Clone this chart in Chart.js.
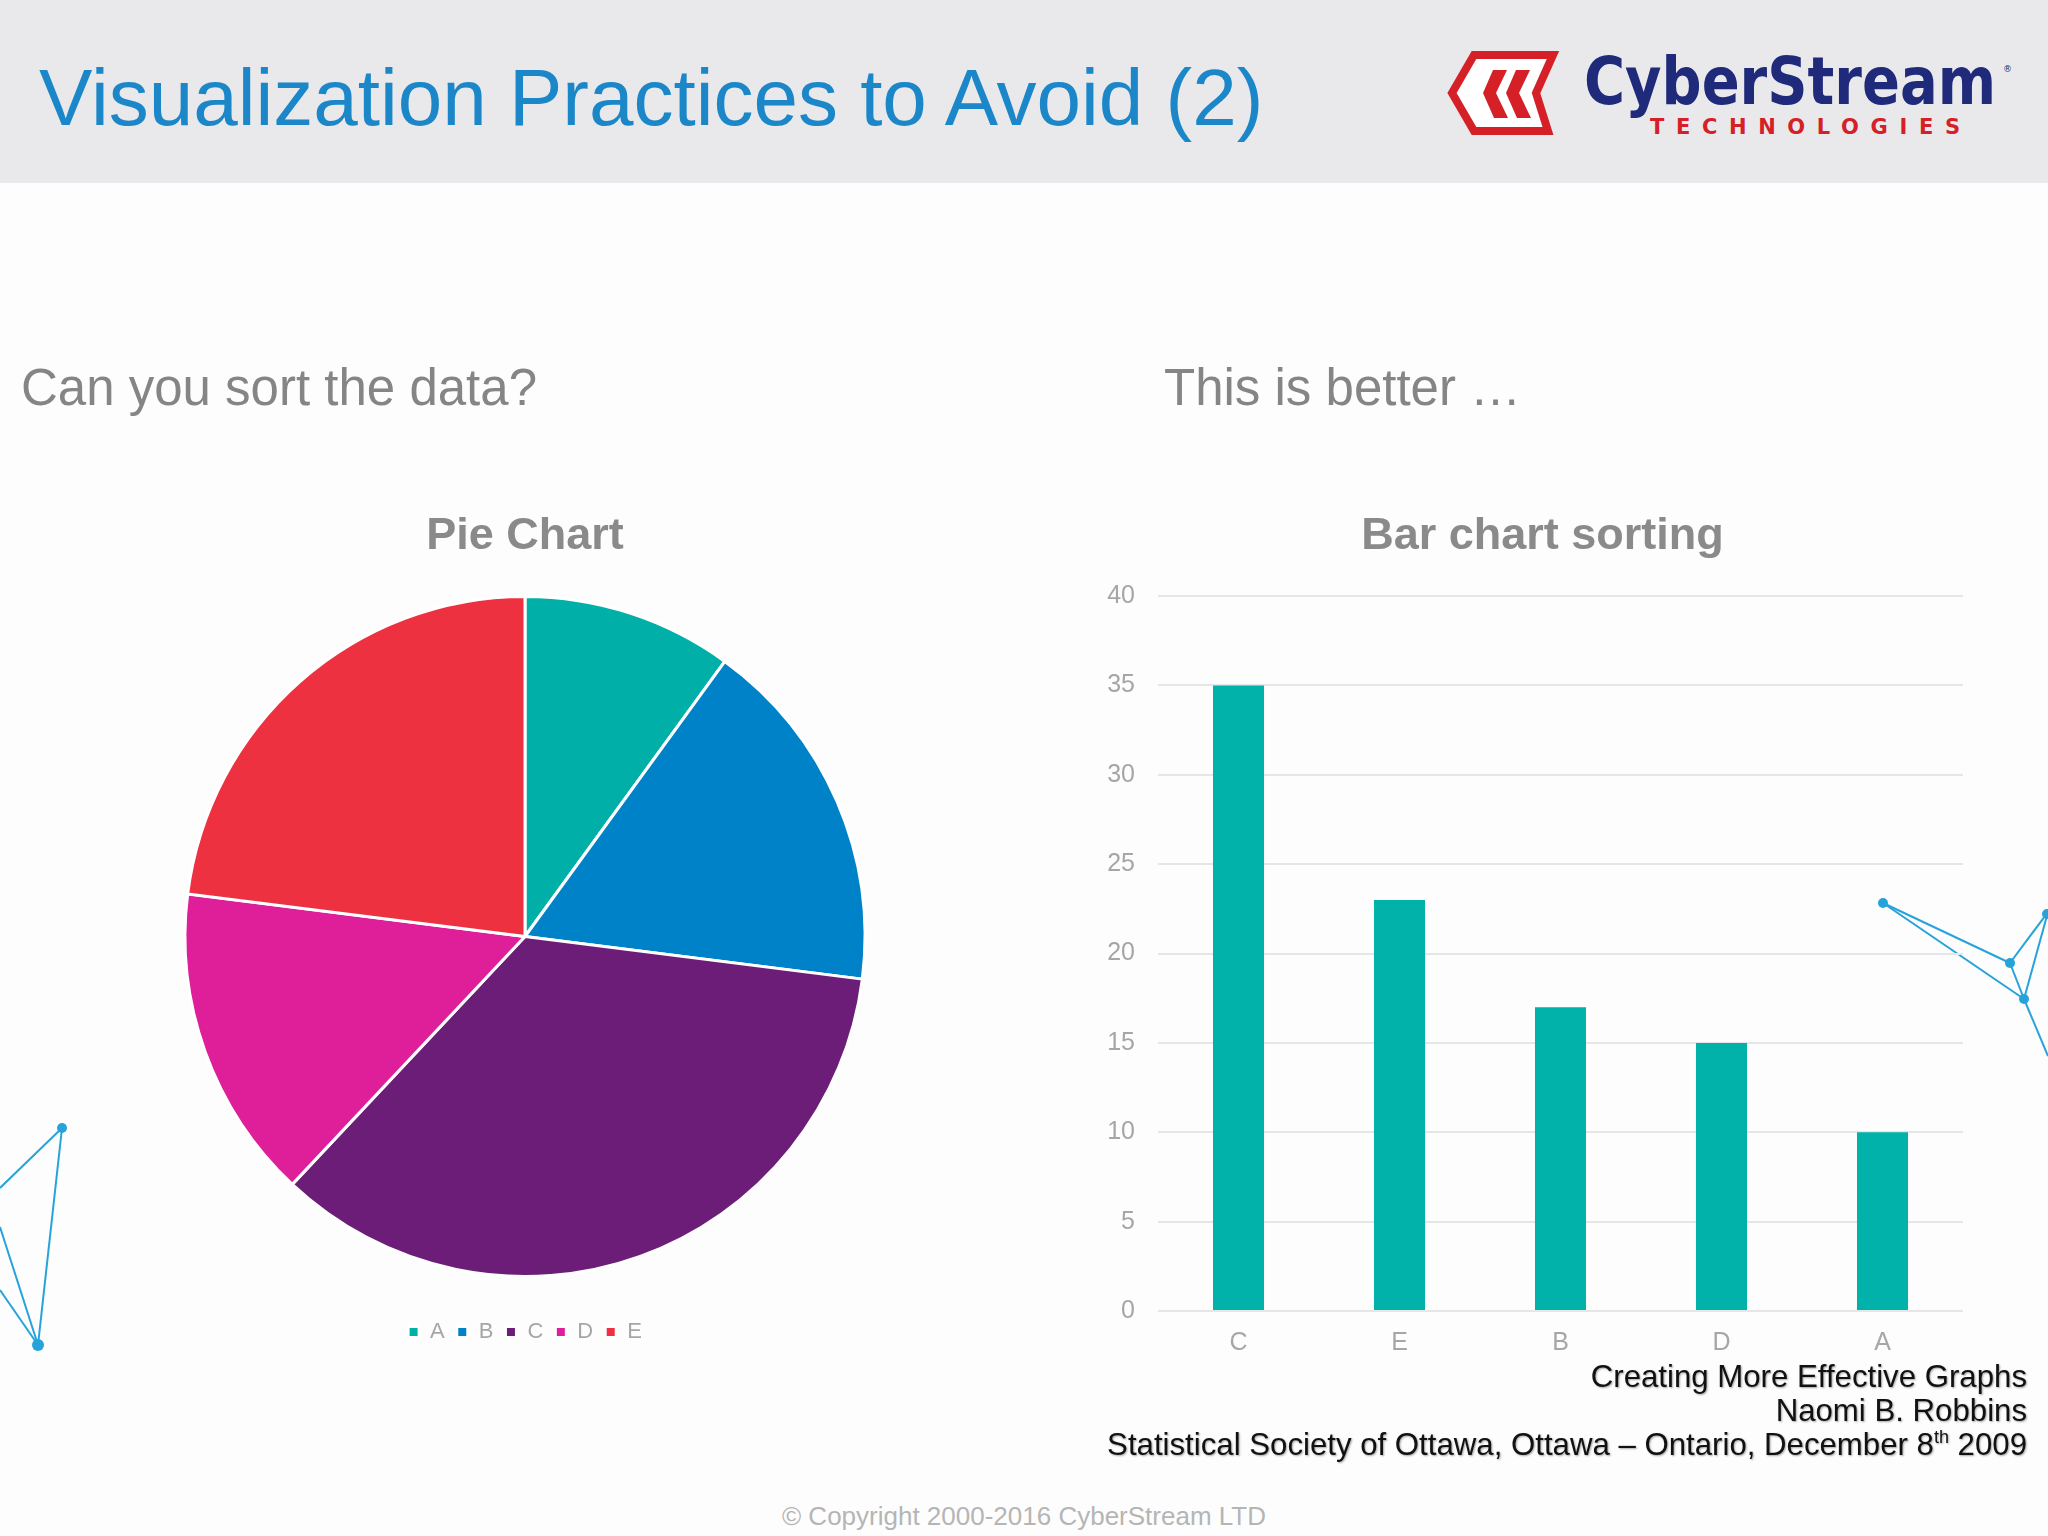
<!DOCTYPE html>
<html>
<head>
<meta charset="utf-8">
<script src="https://cdn.jsdelivr.net/npm/chart.js@4"></script>
<style>
  html, body { margin: 0; padding: 0; }
  body { width: 2048px; height: 1536px; background: #fdfdfd; position: relative; overflow: hidden; font-family: 'Liberation Sans', Arial, sans-serif; }
  .band { position: absolute; left: 0; top: 0; width: 2048px; height: 183px; background: #e9e9eb; }
  .title { position: absolute; left: 39px; top: 58px; font-size: 80px; color: #1b87c9; white-space: nowrap; line-height: 1; }
  .sub { position: absolute; top: 362px; font-size: 51px; color: #858585; white-space: nowrap; line-height: 1; }
  .cite { position: absolute; right: 21px; top: 1360px; font-size: 31.2px; line-height: 34px; text-align: right; color: #111; text-shadow: 1px 1px 2px rgba(0,0,0,0.35); white-space: nowrap; }
  .copy { position: absolute; left: 0; width: 2048px; top: 1501px; text-align: center; font-size: 26px; color: #b5b5b5; }
  canvas { position: absolute; }
  svg { position: absolute; left: 0; top: 0; }
</style>
</head>
<body>
<div class="band"></div>
<div class="title">Visualization Practices to Avoid (2)</div>

<svg width="2048" height="183">
  <polygon points="1452,93 1474,55 1553,55 1536,93 1548,131 1474,131" fill="#fff" stroke="#d52027" stroke-width="8" stroke-linejoin="miter"/>
  <polygon points="1493,70 1507,70 1496,93 1508,118 1494,118 1483,93" fill="#d52027"/>
  <polygon points="1516,70 1530,70 1519,93 1531,118 1517,118 1506,93" fill="#d52027"/>
  <text x="1584" y="104" font-family="DejaVu Sans Condensed, DejaVu Sans" font-weight="bold" font-size="66" fill="#1f2b7a" textLength="412" lengthAdjust="spacingAndGlyphs">CyberStream</text>
  <text x="2003" y="72" font-family="DejaVu Sans" font-size="9" fill="#1f2b7a">®</text>
  <text x="1650" y="134" font-family="DejaVu Sans" font-weight="bold" font-size="21" fill="#d52027" textLength="310" lengthAdjust="spacing">TECHNOLOGIES</text>
</svg>

<div class="sub" style="left:21px">Can you sort the data?</div>
<div class="sub" style="left:1164px">This is better …</div>

<svg width="2048" height="1536" style="pointer-events:none">
  <g stroke="#27a3dc" stroke-width="2" fill="none">
    <line x1="1883" y1="903" x2="2010" y2="963"/>
    <line x1="1883" y1="903" x2="2024" y2="999"/>
    <line x1="2010" y1="963" x2="2048" y2="912"/>
    <line x1="2024" y1="999" x2="2048" y2="912"/>
    <line x1="2010" y1="963" x2="2024" y2="999"/>
    <line x1="2024" y1="999" x2="2048" y2="1056"/>
    <line x1="62" y1="1128" x2="0" y2="1188"/>
    <line x1="62" y1="1128" x2="38" y2="1345"/>
    <line x1="38" y1="1345" x2="0" y2="1227"/>
    <line x1="38" y1="1345" x2="0" y2="1290"/>
  </g>
  <g fill="#27a3dc">
    <circle cx="1883" cy="903" r="5"/>
    <circle cx="2010" cy="963" r="5"/>
    <circle cx="2024" cy="999" r="5"/>
    <circle cx="2047" cy="914" r="5"/>
    <circle cx="62" cy="1128" r="5"/>
    <circle cx="38" cy="1345" r="6"/>
  </g>
</svg>

<canvas id="pie" width="1050" height="863" style="left:0;top:490px"></canvas>
<canvas id="bar" width="863" height="877" style="left:1100px;top:490px"></canvas>

<div class="cite">Creating More Effective Graphs<br>Naomi B. Robbins<br>Statistical Society of Ottawa, Ottawa – Ontario, December 8<sup style="font-size:18px;vertical-align:12px;line-height:0">th</sup> 2009</div>
<div class="copy">© Copyright 2000-2016 CyberStream LTD</div>

<script>
// du lieu bieu do tron
const pieLabels = ['A', 'B', 'C', 'D', 'E'];
const pieValues = [10, 17, 35, 15, 23];
const pieColors = ['#00b0a8', '#0082c8', '#6c1d77', '#df1f99', '#ee3140'];

// du lieu bieu do cot (da sap xep)
const barLabels = ['C', 'E', 'B', 'D', 'A'];
const barValues = [35, 23, 17, 15, 10];
const yMax = 40;
const yStep = 5;

Chart.defaults.font.family = "'Liberation Sans', Arial, sans-serif";
Chart.defaults.animation = false;

const grayText = '#a6a6a6';
const titleGray = '#8a8a8a';

new Chart(document.getElementById('pie').getContext('2d'), {
    type: 'pie',
    data: {
        labels: pieLabels,
        datasets: [{
            data: pieValues,
            backgroundColor: pieColors,
            borderColor: '#ffffff',
            borderWidth: 3,
            radius: 340
        }]
    },
    options: {
        responsive: false,
        layout: { padding: { top: 20 } },
        plugins: {
            title: {
                display: true,
                text: 'Pie Chart',
                color: titleGray,
                font: { size: 45, weight: 'bold' },
                padding: { top: 0, bottom: 0 }
            },
            legend: {
                position: 'bottom',
                labels: {
                    boxWidth: 11,
                    boxHeight: 11,
                    padding: 12,
                    color: grayText,
                    font: { size: 22 }
                }
            },
            tooltip: { enabled: false }
        }
    }
});

// day tieu de sang phai mot chut cho khop voi anh goc
const dichTieuDe = {
    id: 'dichTieuDe',
    afterLayout(chart) {
        chart.titleBlock.left += 8;
        chart.titleBlock.right += 8;
    }
};

new Chart(document.getElementById('bar').getContext('2d'), {
    type: 'bar',
    data: {
        labels: barLabels,
        datasets: [{
            data: barValues,
            backgroundColor: '#00b2a9',
            barPercentage: 0.317,
            categoryPercentage: 1
        }]
    },
    options: {
        responsive: false,
        layout: { padding: { top: 20, left: 6, right: 0 } },
        scales: {
            x: {
                grid: { display: false },
                border: { display: false },
                ticks: { color: grayText, font: { size: 25 }, padding: 9 }
            },
            y: {
                min: 0,
                max: yMax,
                grid: { color: '#e6e6e6', lineWidth: 2, drawTicks: false },
                border: { display: false },
                ticks: { stepSize: yStep, color: grayText, font: { size: 25 }, padding: 23 },
                afterFit: (scale) => { scale.width = 52; }
            }
        },
        plugins: {
            title: {
                display: true,
                text: 'Bar chart sorting',
                color: titleGray,
                font: { size: 45, weight: 'bold' },
                padding: { top: 0, bottom: 32 }
            },
            legend: { display: false },
            tooltip: { enabled: false }
        }
    },
    plugins: [dichTieuDe]
});
</script>
</body>
</html>
